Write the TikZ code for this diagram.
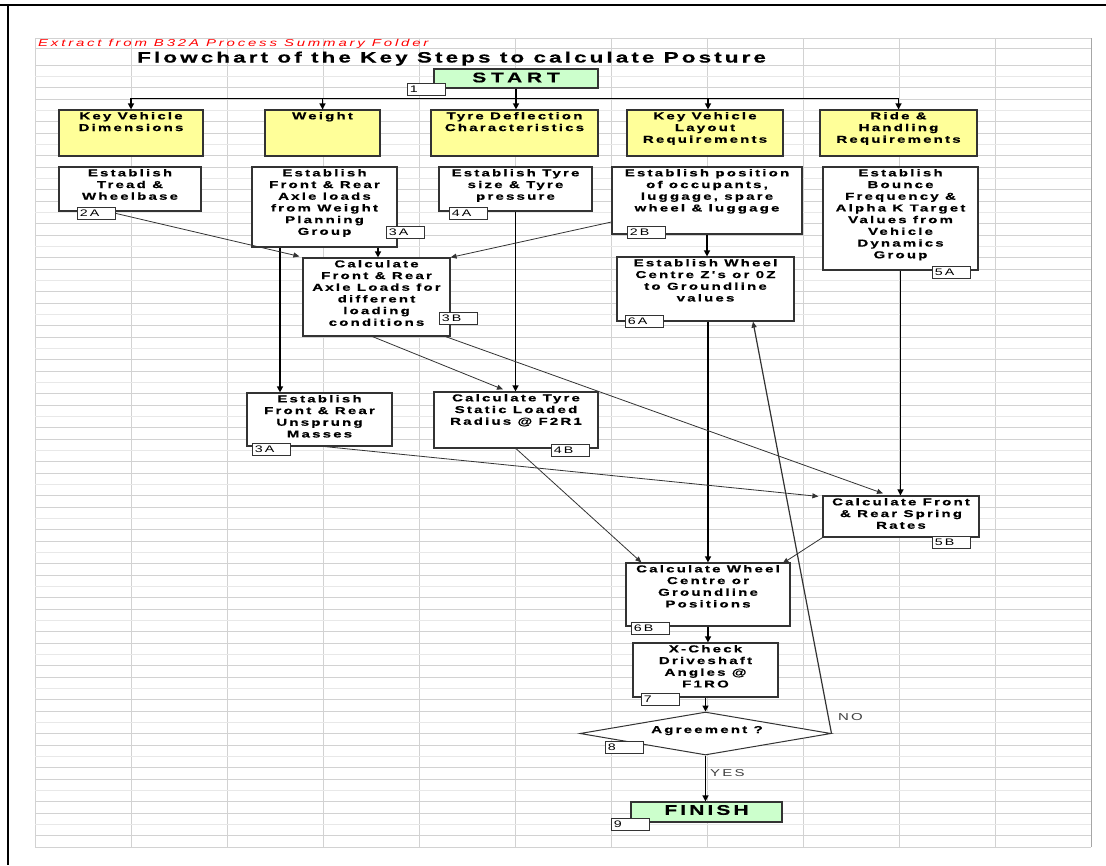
\documentclass[tikz,border=0pt]{standalone}
\usepackage{fontspec}
\usetikzlibrary{arrows.meta,shapes.geometric,fit,calc}
\newfontfamily\cellfont{Liberation Sans}[FakeStretch=1.5,LetterSpace=22,BoldFeatures={FakeBold=0.6}]
\newfontfamily\headfont{Liberation Sans}[FakeStretch=1.5,LetterSpace=20.5,BoldFeatures={FakeBold=0.6}]
\newfontfamily\notefont{Liberation Sans}[FakeStretch=1.5,LetterSpace=28]

\definecolor{gridline}{HTML}{D2D2D2}
\definecolor{gridlight}{HTML}{E8E8E8}
\definecolor{headyellow}{HTML}{FFFF99}
\definecolor{termgreen}{HTML}{CCFFCC}
\definecolor{edge}{HTML}{333333}
\definecolor{notered}{HTML}{FF0000}

\tikzset{
  box/.style={draw=edge, line width=1.2pt, inner sep=0pt},
  headbox/.style={box, fill=headyellow},
  stepbox/.style={box, fill=white},
  termbox/.style={box, fill=termgreen},
  boxtext/.style={anchor=north, inner sep=0pt, align=center,
    font=\cellfont\bfseries\fontsize{10}{11.7}\selectfont},
  termtext/.style={inner sep=0pt, font=\cellfont\bfseries\fontsize{14}{16}\selectfont},
  tag/.style={draw=edge, line width=0.8pt, fill=white, anchor=north west,
    inner xsep=2.5pt, inner ysep=0pt, text width=33pt, minimum height=12pt,
    align=left, font=\cellfont\fontsize{9.5}{10}\selectfont},
  conn/.style={draw=edge, line width=0.8pt, -{Triangle[length=6pt,width=5pt]}},
  flow/.style={draw=black, line width=1.4pt, -{Triangle[length=6pt,width=6pt]}},
  answer/.style={inner sep=0pt, text=black!75, font=\cellfont\fontsize{10}{12}\selectfont},
}

\begin{document}
\begin{tikzpicture}[x=1pt,y=-1pt]
\useasboundingbox (0,0) rectangle (1106,865);
\fill[white] (0,0) rectangle (1106,865);

% spreadsheet grid
\foreach \k in {0,...,11}
  \draw[gridline, line width=0.9pt] ({35+96*\k},38.3) -- ({35+96*\k},847);
\draw[gridline, line width=0.9pt] (35,38.3) -- (1091,38.3);
\draw[gridline, line width=0.9pt] (35,48.3) -- (1091,48.3);
\foreach \i in {0,...,69}{
  \pgfmathtruncatemacro\r{mod(\i,3)}
  \ifnum\r=1
    \draw[gridlight, line width=0.9pt] (35,{65+11.333*\i}) -- (1091,{65+11.333*\i});
  \else
    \draw[gridline, line width=0.9pt] (35,{65+11.333*\i}) -- (1091,{65+11.333*\i});
  \fi
}
\draw[black!35, line width=1pt] (1091,38.3) -- (1091,847);

% page frame
\draw[black, line width=2pt] (0,5) -- (1106,5);
\draw[black, line width=1.6pt] (8,5) -- (8,865);

% headings
\node[inner sep=0pt, anchor=base west, text=notered,
  font=\notefont\itshape\fontsize{10}{11}\selectfont] (note) at (38,46.5)
  {Extract from B32A Process Summary Folder};
\node[inner sep=0pt, anchor=base west,
  font=\headfont\bfseries\fontsize{15}{18}\selectfont] (title) at (137,62.5)
  {Flowchart of the Key Steps to calculate Posture};

% start
\node[termbox, fit={(434,69) (598,88)}] (start) {};
\node[termtext] (tstart) at (516,77.5) {\addfontfeature{LetterSpace=34}START};

% key requirement headers
\node[headbox, fit={(59,110) (203,156)}] (kvd) {};
\node[headbox, fit={(265,110) (380,156)}] (wt) {};
\node[headbox, fit={(431,110) (598,156)}] (tdc) {};
\node[headbox, fit={(627,110) (783,156)}] (kvl) {};
\node[headbox, fit={(820,110) (977,156)}] (rh) {};
\node[boxtext] (tkvd) at ([yshift=-2.5pt]kvd.north) {Key Vehicle\\Dimensions};
\node[boxtext] (twt) at ([yshift=-2.5pt]wt.north) {Weight};
\node[boxtext] (ttdc) at ([yshift=-2.5pt]tdc.north) {Tyre Deflection\\Characteristics};
\node[boxtext] (tkvl) at ([yshift=-2.5pt]kvl.north) {Key Vehicle\\Layout\\Requirements};
\node[boxtext] (trh) at ([yshift=-2.5pt]rh.north) {Ride \&\\Handling\\Requirements};

% first row of steps
\node[stepbox, fit={(59,167) (201,211)}] (e2a) {};
\node[stepbox, fit={(252,167) (397,247)}] (e3a) {};
\node[stepbox, fit={(439,167) (592,211)}] (e4a) {};
\node[stepbox, fit={(612,167) (802,234)}] (e2b) {};
\node[stepbox, fit={(823,167) (978,270)}] (e5a) {};
\node[boxtext] (te2a) at ([yshift=-2.5pt]e2a.north) {Establish\\Tread \&\\Wheelbase};
\node[boxtext] (te3a) at ([yshift=-2.5pt]e3a.north) {Establish\\Front \& Rear\\Axle loads\\from Weight\\Planning\\Group};
\node[boxtext] (te4a) at ([yshift=-2.5pt]e4a.north) {Establish Tyre\\size \& Tyre\\pressure};
\node[boxtext] (te2b) at ([yshift=-2.5pt]e2b.north) {Establish position\\of occupants,\\luggage, spare\\wheel \& luggage};
\node[boxtext] (te5a) at ([yshift=-2.5pt]e5a.north) {Establish\\Bounce\\Frequency \&\\Alpha K Target\\Values from\\Vehicle\\Dynamics\\Group};

% later steps
\node[stepbox, fit={(303,258) (450,336)}] (c3b) {};
\node[stepbox, fit={(617,257) (794,321)}] (e6a) {};
\node[stepbox, fit={(247,393) (392,446)}] (e3m) {};
\node[stepbox, fit={(434,392) (598,448)}] (c4b) {};
\node[stepbox, fit={(823,496) (979,537)}] (c5b) {};
\node[stepbox, fit={(626,563) (790,626)}] (c6b) {};
\node[stepbox, fit={(633,643) (778,697)}] (x7) {};
\node[boxtext] (tc3b) at ([yshift=-2.5pt]c3b.north) {Calculate\\Front \& Rear\\Axle Loads for\\different\\loading\\conditions};
\node[boxtext] (te6a) at ([yshift=-2.5pt]e6a.north) {Establish Wheel\\Centre Z's or 0Z\\to Groundline\\values};
\node[boxtext] (te3m) at ([yshift=-2.5pt]e3m.north) {Establish\\Front \& Rear\\Unsprung\\Masses};
\node[boxtext] (tc4b) at ([yshift=-2.5pt]c4b.north) {Calculate Tyre\\Static Loaded\\Radius @ F2R1};
\node[boxtext] (tc5b) at ([yshift=-2.5pt]c5b.north) {Calculate Front\\\& Rear Spring\\Rates};
\node[boxtext] (tc6b) at ([yshift=-2.5pt]c6b.north) {Calculate Wheel\\Centre or\\Groundline\\Positions};
\node[boxtext] (tx7) at ([yshift=-2.5pt]x7.north) {X-Check\\Driveshaft\\Angles @\\F1RO};

% decision and finish
\node[diamond, draw=edge, line width=1pt, fill=white, inner sep=0pt,
  minimum width=251pt, minimum height=43pt] (agr) at (705.5,733.5) {};
\node[boxtext, anchor=base] (tagr) at (707,733) {Agreement ?};
\node[termbox, fit={(631,802) (782,822)}] (fin) {};
\node[termtext] (tfin) at (706.5,810) {FINISH};

% connectors
\coordinate (bus) at (0,98);
\draw[draw=black, line width=1pt] (kvd.north |- bus) -- (rh.north |- bus);
\draw[flow] (start.south) -- (start.south |- tdc.north);
\draw[flow] (kvd.north |- bus) -- (kvd.north);
\draw[flow] (wt.north |- bus) -- (wt.north);
\draw[flow] ([xshift=3pt]kvl.north |- bus) -- ([xshift=3pt]kvl.north);
\draw[flow] (rh.north |- bus) -- (rh.north);

\draw[flow] ([xshift=53.5pt]e3a.south) -- ([xshift=53.5pt]e3a.south |- c3b.north);
\draw[flow] ([xshift=-39.5pt]e3m.north |- e3a.south) -- ([xshift=-39.5pt]e3m.north);
\draw[flow] (e4a.south) -- (e4a.south |- c4b.north);
\draw[flow] (e2b.south) -- (e2b.south |- e6a.north);
\draw[flow] (e5a.south) -- (e5a.south |- c5b.north);
\draw[flow] (c6b.north |- e6a.south) -- (c6b.north);
\draw[flow] (c6b.south) -- (c6b.south |- x7.north);
\draw[flow] (agr.north |- x7.south) -- (agr.north);
\draw[flow] (agr.south) -- (agr.south |- fin.north);

\draw[conn] ([yshift=-21.5pt]e2b.west) -- (c3b.north east);
\draw[conn] ([xshift=-4pt]c3b.south) -- ([shift={(-13pt,2pt)}]c4b.north);
\draw[conn] ([xshift=-5pt]c3b.south east) -- ([shift={(-18pt,2pt)}]c5b.north);
\draw[conn] ([xshift=5.5pt]e3m.south) -- ([shift={(-4pt,-1pt)}]c5b.north west);
\draw[conn] (c4b.south) -- ([xshift=16pt]c6b.north west);
\draw[conn] (c5b.south west) -- ([shift={(-8pt,-1pt)}]c6b.north east);
\draw[conn, line width=1.2pt] (agr.east) -- ([xshift=47.5pt]e6a.south);

% step numbers
\node[tag] (tg1) at (407,83) {1};
\node[tag] (tg2a) at (77,207) {2A};
\node[tag] (tg3a) at (386,226) {3A};
\node[tag] (tg4a) at (449,207) {4A};
\node[tag] (tg2b) at (627,226) {2B};
\node[tag] (tg5a) at (932,266) {5A};
\node[tag] (tg3b) at (439,312) {3B};
\node[tag] (tg6a) at (625,315) {6A};
\node[tag] (tg3m) at (252,443) {3A};
\node[tag] (tg4b) at (551,444) {4B};
\node[tag] (tg5b) at (932,536) {5B};
\node[tag] (tg6b) at (631,622) {6B};
\node[tag] (tg7) at (641,693) {7};
\node[tag] (tg8) at (605,741) {8};
\node[tag] (tg9) at (611,818) {9};

\draw[conn] (tg2a.east) -- ([shift={(-3pt,1pt)}]c3b.north west);

% branch labels
\node[answer, anchor=west] (lno) at (838,717) {NO};
\node[answer, anchor=west] (lyes) at (710,773) {YES};
\end{tikzpicture}
\end{document}
